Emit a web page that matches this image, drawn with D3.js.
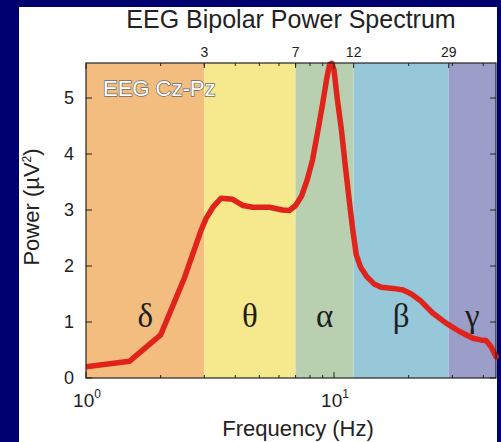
<!DOCTYPE html>
<html>
<head>
<meta charset="utf-8">
<script src="https://cdn.jsdelivr.net/npm/d3@7"></script>
<style>
  html, body { margin: 0; padding: 0; background: #00006e; }
  svg { display: block; }
</style>
</head>
<body>
<svg id="chart" width="501" height="442"></svg>
<script>
// Spectrum samples (Hz, µV²)
const freqHz = [1.0, 1.5, 2.0, 2.5, 2.9, 3.05, 3.25, 3.5, 3.9, 4.3, 4.7, 5.5, 6.2, 6.6, 7.0, 7.4, 7.8, 8.2, 8.6, 9.0, 9.35, 9.6, 9.8, 10.0, 10.3, 10.7, 11.1, 11.5, 11.9, 12.3, 12.8, 13.5, 14.5, 15.5, 17.3, 19.0, 20.5, 22.2, 25.0, 28.3, 32.1, 36.3, 39.0, 41.0, 43.0, 45.0];
const powerUV2 = [0.20, 0.30, 0.77, 1.80, 2.62, 2.85, 3.05, 3.21, 3.19, 3.08, 3.05, 3.05, 3.00, 2.99, 3.08, 3.25, 3.54, 3.90, 4.40, 4.90, 5.35, 5.60, 5.62, 5.50, 5.00, 4.45, 3.80, 3.20, 2.65, 2.20, 1.98, 1.82, 1.68, 1.62, 1.60, 1.57, 1.50, 1.39, 1.16, 0.98, 0.83, 0.71, 0.68, 0.67, 0.56, 0.38];

// Frequency bands
const bandNames = ["δ", "θ", "α", "β", "γ"];
const bandEdges = [1, 3, 7, 12, 29, 45];
const bandColors = ["#f3bd80", "#f6e88c", "#b8d0b0", "#96c8da", "#9a9ec8"];

// Axis ticks
const yTicks = [0, 1, 2, 3, 4, 5];
const topTicks = [3, 7, 12, 29];
const decadeTicks = [1, 10];
const minorTicks = [2, 3, 4, 5, 6, 7, 8, 9, 20, 30, 40];

(function draw() {
  const svg = d3.select("#chart");
  const W = 501, H = 442;

  svg.append("rect").attr("width", W).attr("height", H).attr("fill", "#00006e");
  svg.append("rect").attr("x", 19).attr("y", 7).attr("width", 478).attr("height", 435).attr("fill", "#ffffff");

  const pL = 86, pR = 496, pT = 63, pB = 378;
  const x = d3.scaleLog().domain([1, 45]).range([pL, pR]);
  const y = d3.scaleLinear().domain([0, 5.625]).range([pB, pT]);

  // band backgrounds
  const bands = bandNames.map((n, i) => ({ name: n, lo: bandEdges[i], hi: bandEdges[i + 1], color: bandColors[i] }));
  svg.append("g").selectAll("rect").data(bands).join("rect")
    .attr("x", d => x(d.lo)).attr("y", pT)
    .attr("width", d => x(d.hi) - x(d.lo)).attr("height", pB - pT)
    .attr("fill", d => d.color);

  // greek band labels
  svg.append("g").selectAll("text").data(bands).join("text")
    .attr("x", d => x(Math.sqrt(d.lo * d.hi)))
    .attr("y", y(1.1))
    .attr("text-anchor", "middle").attr("dominant-baseline", "central")
    .attr("font-family", "'Liberation Serif', 'Times New Roman', serif")
    .attr("font-size", 33).attr("fill", "#1e1e1e")
    .text(d => d.name);

  // spectrum curve
  svg.append("clipPath").attr("id", "plotclip")
    .append("rect").attr("x", pL).attr("y", pT - 4).attr("width", pR - pL + 3).attr("height", pB - pT + 4);
  const pts = freqHz.map((f, i) => [f, powerUV2[i]]);
  svg.append("path")
    .datum(pts)
    .attr("clip-path", "url(#plotclip)")
    .attr("fill", "none").attr("stroke", "#e0231b").attr("stroke-width", 5.5)
    .attr("stroke-linejoin", "round").attr("stroke-linecap", "round")
    .attr("d", d3.line().x(d => x(d[0])).y(d => y(d[1])).curve(d3.curveLinear));

  // frame
  const axisCol = "#222";
  svg.append("rect").attr("x", pL).attr("y", pT).attr("width", pR - pL).attr("height", pB - pT)
    .attr("fill", "none").attr("stroke", axisCol).attr("stroke-width", 1.2);

  // ticks (inward, mirrored)
  const tg = svg.append("g").attr("stroke", axisCol).attr("stroke-width", 1);
  yTicks.forEach(v => {
    tg.append("line").attr("x1", pL).attr("x2", pL + 6).attr("y1", y(v)).attr("y2", y(v));
    tg.append("line").attr("x1", pR).attr("x2", pR - 6).attr("y1", y(v)).attr("y2", y(v));
  });
  decadeTicks.forEach(v => {
    tg.append("line").attr("x1", x(v)).attr("x2", x(v)).attr("y1", pB).attr("y2", pB - 6);
    tg.append("line").attr("x1", x(v)).attr("x2", x(v)).attr("y1", pT).attr("y2", pT + 6);
  });
  minorTicks.forEach(v => {
    tg.append("line").attr("x1", x(v)).attr("x2", x(v)).attr("y1", pB).attr("y2", pB - 3);
    tg.append("line").attr("x1", x(v)).attr("x2", x(v)).attr("y1", pT).attr("y2", pT + 3);
  });
  topTicks.forEach(v => {
    tg.append("line").attr("x1", x(v)).attr("x2", x(v)).attr("y1", pT).attr("y2", pT + 5);
  });

  const sans = "'Liberation Sans', Arial, Helvetica, sans-serif";

  // y tick labels
  svg.append("g").selectAll("text").data(yTicks).join("text")
    .attr("x", pL - 12).attr("y", d => y(d)).attr("dy", "0.36em")
    .attr("text-anchor", "end").attr("font-family", sans).attr("font-size", 18).attr("fill", "#222")
    .text(d => d);

  // top band-edge labels
  svg.append("g").selectAll("text").data(topTicks).join("text")
    .attr("x", d => x(d)).attr("y", pT - 6)
    .attr("text-anchor", "middle").attr("font-family", sans).attr("font-size", 14).attr("fill", "#222")
    .text(d => d);

  // bottom decade labels 10^n
  decadeTicks.forEach(v => {
    const t = svg.append("text")
      .attr("x", x(v) + 1).attr("y", pB + 29)
      .attr("text-anchor", "middle").attr("font-family", sans).attr("font-size", 19).attr("fill", "#222");
    t.append("tspan").text("10");
    t.append("tspan").attr("dy", -9).attr("font-size", 12).text(Math.round(Math.log10(v)));
  });

  // axis titles
  svg.append("text").attr("x", 298).attr("y", 436)
    .attr("text-anchor", "middle").attr("font-family", sans).attr("font-size", 22).attr("fill", "#222")
    .text("Frequency (Hz)");

  const yl = svg.append("text").attr("transform", "translate(39,207) rotate(-90)")
    .attr("text-anchor", "middle").attr("font-family", sans).attr("font-size", 22).attr("fill", "#222");
  yl.append("tspan").text("Power (µV");
  yl.append("tspan").attr("dy", -8).attr("font-size", 12).text("2");
  yl.append("tspan").attr("dy", 8).text(")");

  svg.append("text").attr("x", 291).attr("y", 28)
    .attr("text-anchor", "middle").attr("font-family", sans).attr("font-size", 25).attr("fill", "#222")
    .text("EEG Bipolar Power Spectrum");

  // channel label
  svg.append("text").attr("x", 103).attr("y", 96)
    .attr("font-family", sans).attr("font-size", 22)
    .attr("fill", "#ffffff").attr("stroke", "#6a6a6a").attr("stroke-width", 1.4)
    .attr("paint-order", "stroke")
    .text("EEG Cz-Pz");
})();
</script>
</body>
</html>
